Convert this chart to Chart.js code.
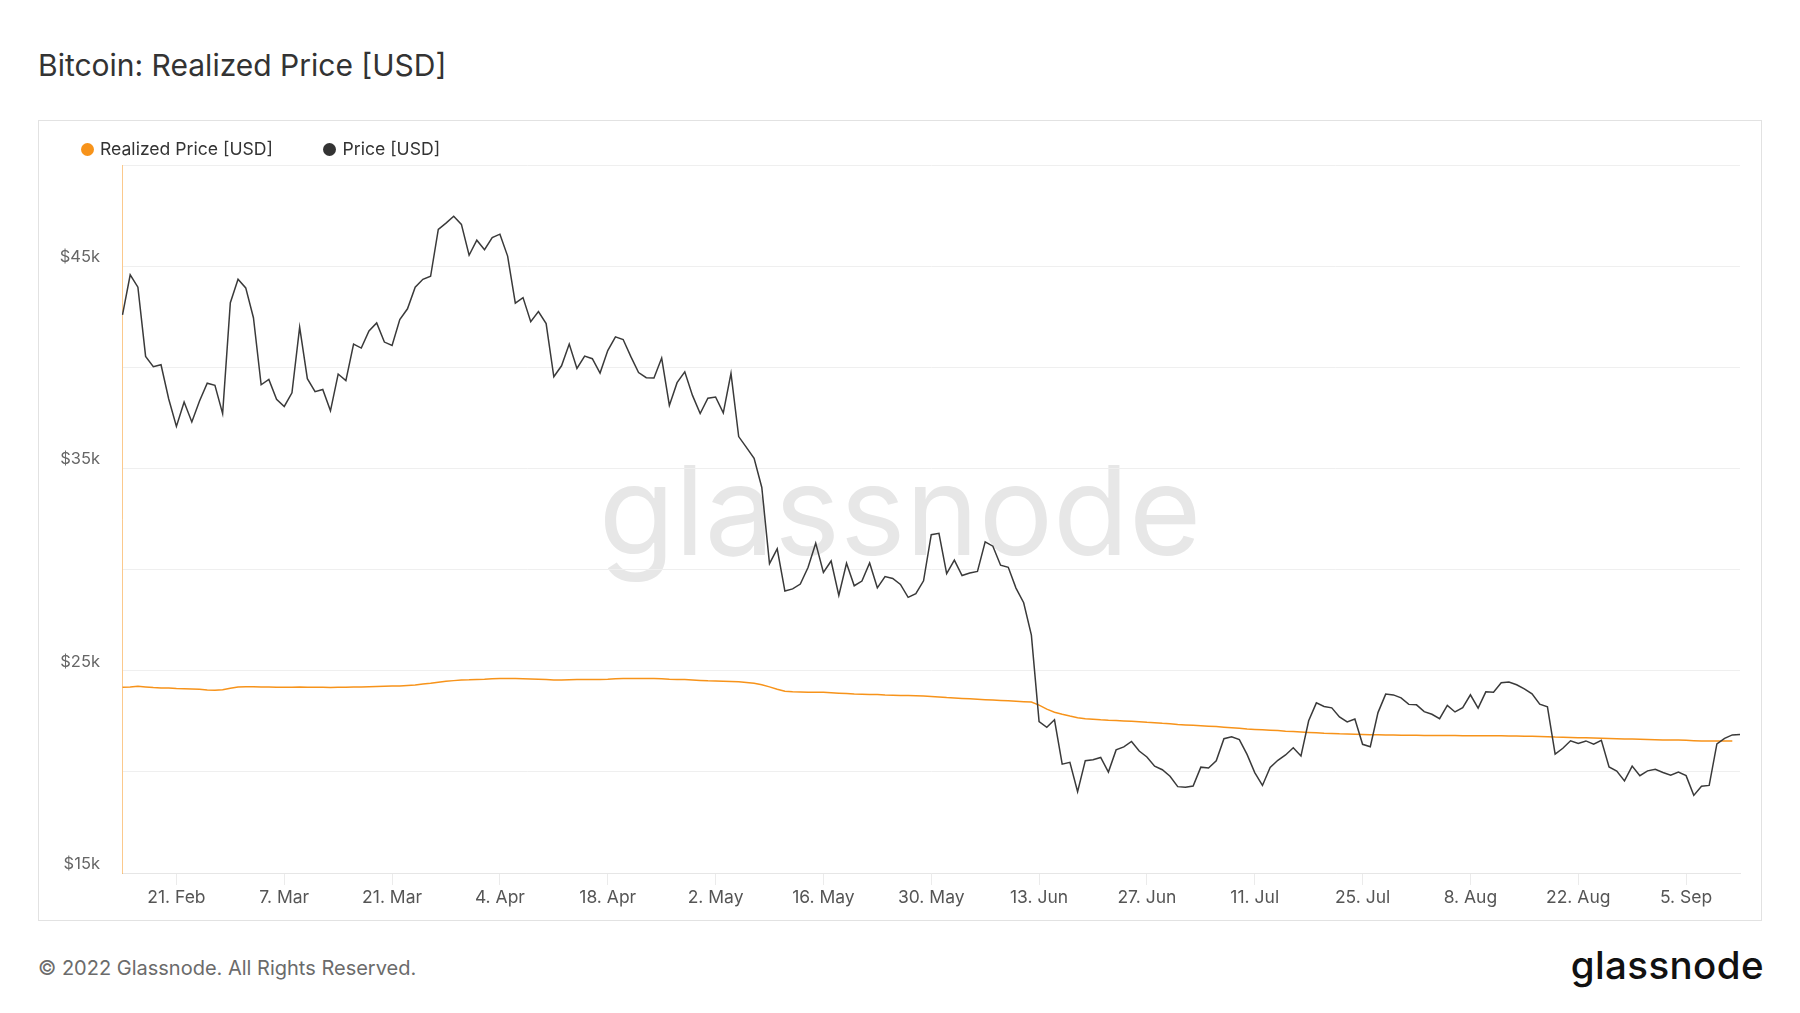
<!DOCTYPE html>
<html>
<head>
<meta charset="utf-8">
<script src="https://cdn.jsdelivr.net/npm/chart.js@4/dist/chart.umd.min.js"></script>
<style>
html,body{margin:0;padding:0;background:#fff;width:1800px;height:1013px;overflow:hidden;font-family:Inter,'Noto Sans',sans-serif;}
.abs{position:absolute;white-space:nowrap;line-height:1;}
#title{left:38px;top:50px;font-size:30px;color:#333;}
#box{position:absolute;left:38px;top:120px;width:1724px;height:801px;border:1px solid #e2e2e2;box-sizing:border-box;}
#wrap{position:absolute;left:38px;top:121px;width:1724px;height:800px;}
.dot{position:absolute;width:13px;height:13px;border-radius:50%;}
.leg{font-size:17.6px;color:#333;top:139.8px;}
#copy{left:38px;top:957.7px;font-size:20px;color:#6b6b6b;}
#logo{right:36px;top:946px;font-size:38.5px;font-weight:500;color:#111;letter-spacing:0.4px;}
</style>
</head>
<body>
<div id="title" class="abs">Bitcoin: Realized Price [USD]</div>
<div id="box"></div>
<div id="wrap"><canvas id="c" width="1724" height="800"></canvas></div>
<div class="dot" style="left:81px;top:142.5px;background:#f7931a;"></div>
<div class="abs leg" style="left:100px;">Realized Price [USD]</div>
<div class="dot" style="left:323px;top:142.5px;background:#333;"></div>
<div class="abs leg" style="left:342.5px;">Price [USD]</div>
<div id="copy" class="abs">© 2022 Glassnode. All Rights Reserved.</div>
<div id="logo" class="abs">glassnode</div>
<script>
// ---- data (daily, starting 14 Feb 2022) ----
const startDate = '2022-02-14';
const priceFeb = [42586,44575,43961,40538,40031,40126,38431,37075,38286,37296,38332,39214,39105,37709,43193];
const priceMar = [44354,43924,42451,39137,39400,38419,38062,38737,41982,39437,38794,38904,37849,39666,39338,41143,40951,41801,42191,41247,41077,42358,42892,43960,44349,44500,46820,47128,47465,47062,45539];
const priceApr = [46282,45811,46407,46580,45497,43170,43444,42252,42753,42158,39530,40074,41147,39942,40552,40424,39716,40826,41503,41374,40527,39741,39486,39469,40458,38117,39241,39773,38610,37714];
const priceMay = [38469,38529,37750,39698,36575,36040,35501,34059,30296,31022,28936,29047,29283,30101,31305,29862,30425,28720,30314,29200,29432,30323,29098,29655,29562,29267,28627,28814,29445,31726,31792];
const priceJun = [29799,30467,29704,29833,29906,31370,31155,30214,30112,29083,28360,26762,22487,22206,22572,20381,20471,19018,20553,20600,20711,19988,21086,21232,21502,21028,20736,20281,20105,19785];
const priceJul = [19270,19243,19297,20232,20191,20548,21638,21732,21593,20862,19963,19329,20213,20570,20837,21191,20786,22525,23410,23231,23164,22714,22465,22610,21362,21240,22930,23843,23804,23656,23336];
const priceAug = [23314,22978,22846,22630,23289,22961,23175,23810,23149,23954,23935,24403,24442,24306,24100,23854,23343,23213,20877,21167,21534,21398,21529,21369,21560,20241,20038,19555,20286,19813,20050];
const priceSep = [20127,19970,19833,19987,19813,18838,19291,19329,21382,21652,21826,21850];

const realizedFeb = [24180,24200,24230,24200,24170,24150,24140,24120,24110,24100,24080,24050,24040,24060,24130];
const realizedMar = [24190,24210,24210,24200,24190,24180,24180,24180,24190,24180,24180,24180,24170,24180,24180,24190,24200,24210,24220,24230,24240,24250,24270,24290,24340,24380,24430,24480,24510,24540,24550];
const realizedApr = [24570,24580,24600,24610,24620,24610,24600,24590,24580,24560,24540,24540,24550,24560,24570,24570,24570,24580,24600,24610,24620,24620,24620,24610,24600,24580,24570,24560,24540,24520];
const realizedMay = [24500,24490,24480,24470,24450,24420,24380,24310,24200,24080,23980,23960,23950,23940,23940,23930,23910,23890,23870,23850,23840,23830,23820,23800,23790,23780,23770,23760,23750,23730,23700];
const realizedJun = [23670,23650,23630,23610,23590,23570,23550,23530,23510,23490,23470,23450,23300,23100,22950,22850,22760,22680,22630,22600,22570,22550,22540,22520,22500,22480,22450,22430,22400,22380];
const realizedJul = [22340,22320,22300,22280,22260,22240,22210,22180,22150,22120,22100,22080,22060,22040,22010,21990,21970,21950,21930,21910,21900,21880,21870,21860,21850,21840,21830,21820,21820,21810,21810];
const realizedAug = [21810,21800,21800,21800,21800,21800,21790,21790,21790,21780,21780,21780,21770,21770,21760,21760,21750,21740,21720,21710,21700,21690,21680,21670,21660,21650,21640,21630,21620,21610,21600];
const realizedSep = [21590,21580,21570,21570,21560,21540,21520,21520,21520,21520,21520];

const xTickLabels = ['21. Feb','7. Mar','21. Mar','4. Apr','18. Apr','2. May','16. May','30. May','13. Jun','27. Jun','11. Jul','25. Jul','8. Aug','22. Aug','5. Sep'];
const yTickValues = [15000,25000,35000,45000];
const yTickLabels = ['$15k','$25k','$35k','$45k'];

const price = [].concat(priceFeb,priceMar,priceApr,priceMay,priceJun,priceJul,priceAug,priceSep);
const realized = [].concat(realizedFeb,realizedMar,realizedApr,realizedMay,realizedJun,realizedJul,realizedAug,realizedSep);

const monthNames = ['Jan','Feb','Mar','Apr','May','Jun','Jul','Aug','Sep','Oct','Nov','Dec'];
const categories = [];
{
  const t0 = Date.parse(startDate + 'T00:00:00Z');
  for (let i = 0; i < price.length; i++) {
    const d = new Date(t0 + i * 86400000);
    categories.push(d.getUTCDate() + '. ' + monthNames[d.getUTCMonth()]);
  }
}
const xTickSet = new Set(xTickLabels);

const watermark = {
  id: 'watermark',
  beforeDraw(chart) {
    const ctx = chart.ctx;
    ctx.save();
    ctx.font = '400 124px Inter';
    ctx.fillStyle = '#e7e7e7';
    ctx.textAlign = 'center';
    ctx.textBaseline = 'alphabetic';
    ctx.fillText('glassnode', 900 - 38, 555 - 121);
    ctx.restore();
  }
};

function build() {
  new Chart(document.getElementById('c'), {
    type: 'line',
    data: {
      labels: categories,
      datasets: [
        { label: 'Price [USD]', data: price, borderColor: '#3a3a3a', borderWidth: 1.5, pointRadius: 0, tension: 0, fill: false, order: 1 },
        { label: 'Realized Price [USD]', data: realized, borderColor: '#f7931a', borderWidth: 1.5, pointRadius: 0, tension: 0, fill: false, order: 2 }
      ]
    },
    plugins: [watermark],
    options: {
      responsive: false,
      animation: false,
      devicePixelRatio: 1,
      events: [],
      layout: { padding: { top: 44, right: 22, left: 0, bottom: 0 } },
      plugins: { legend: { display: false }, tooltip: { enabled: false } },
      scales: {
        x: {
          type: 'category',
          afterFit(s) { s.height = 48; },
          afterBuildTicks(s) { s.ticks = s.ticks.filter(t => xTickSet.has(categories[t.value])); },
          grid: { display: true, drawOnChartArea: false, drawTicks: true, tickLength: 12, color: '#ebebeb' },
          border: { display: true, color: '#e6e6e6', width: 1 },
          ticks: { autoSkip: false, maxRotation: 0, padding: 2, color: '#555', font: { family: 'Inter', size: 17.5 } }
        },
        y: {
          type: 'linear',
          min: 15000, max: 50000,
          afterFit(s) { s.width = 84.5; },
          grid: { color: '#efefef', drawTicks: false, lineWidth: 1 },
          border: { display: true, color: 'rgba(247,147,26,0.5)', width: 1 },
          ticks: {
            stepSize: 5000, padding: 22.5, labelOffset: -9, color: '#666',
            font: { family: 'Inter', size: 16.5 },
            callback(v) { const i = yTickValues.indexOf(v); return i >= 0 ? yTickLabels[i] : ''; }
          }
        }
      }
    }
  });
}
if (document.fonts && document.fonts.load) {
  Promise.all([document.fonts.load('16px Inter'), document.fonts.load('124px Inter')]).then(build, build);
} else { build(); }
</script>
</body>
</html>
